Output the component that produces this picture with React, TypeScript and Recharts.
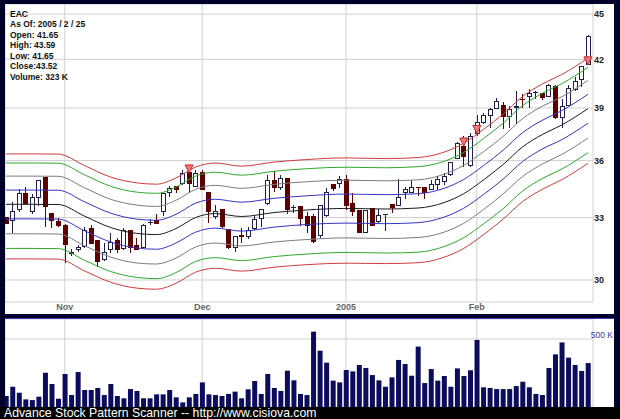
import React from 'react';
import { ComposedChart, BarChart, Bar, Line, Scatter, XAxis, YAxis, CartesianGrid } from 'recharts';

// ---- price data (Oct 19 2004 .. Feb 25 2005), one entry per trading day ----
const openP = [
  33.0, 32.84, 33.43, 34.25, 33.3, 34.04, 35.1, 33.2, 32.81, 32.62,
  31.25, 31.41, 31.57, 32.47, 31.84, 30.96, 31.44, 31.86, 31.49, 32.35,
  31.6, 31.54, 32.72, 32.84, 33.3, 34.3, 34.61, 34.74, 35.32, 34.61,
  35.32, 34.28, 33.03, 33.43, 32.42, 31.54, 32.12, 32.05, 32.47, 32.95,
  33.69, 34.92, 34.52, 35.0, 33.45, 33.54, 33.03, 33.03, 32.09, 33.08,
  34.68, 34.74, 34.96, 33.69, 33.34, 32.25, 33.45, 32.78, 33.1, 33.64,
  33.62, 34.3, 34.28, 34.55, 34.52, 34.44, 34.72, 34.87, 35.23, 36.11,
  36.8, 35.73, 37.51, 38.13, 38.56, 38.96, 39.15, 38.49, 39.01, 39.51,
  39.68, 39.9, 39.88, 39.71, 40.29, 38.42, 39.15, 40.12, 40.7, 41.65,
];
const highP = [
  33.05, 33.81, 34.48, 34.57, 34.22, 34.92, 35.12, 33.22, 32.96, 32.65,
  31.44, 31.65, 32.55, 32.64, 31.86, 31.73, 32.25, 31.97, 32.47, 32.38,
  31.97, 32.65, 32.91, 33.2, 34.28, 34.61, 34.62, 35.5, 35.35, 35.46,
  35.46, 34.3, 33.64, 33.45, 32.44, 32.09, 32.47, 32.55, 33.06, 33.43,
  35.23, 35.41, 35.19, 35.05, 33.64, 33.56, 33.3, 33.2, 33.64, 34.52,
  34.7, 35.17, 35.23, 34.28, 33.36, 33.39, 33.49, 33.43, 33.16, 33.66,
  35.0, 34.55, 34.96, 34.58, 34.55, 34.96, 35.14, 35.32, 35.89, 37.04,
  37.35, 37.55, 38.58, 38.7, 39.01, 39.62, 39.33, 39.09, 40.02, 39.81,
  40.12, 40.02, 39.9, 40.43, 40.37, 39.51, 40.37, 40.9, 41.59, 43.59,
];
const lowP = [
  32.7, 32.21, 33.3, 33.68, 33.18, 33.56, 32.52, 32.47, 32.52, 30.77,
  31.12, 31.33, 31.49, 31.72, 30.61, 30.89, 31.25, 31.25, 31.41, 31.25,
  31.41, 31.49, 32.62, 32.7, 33.08, 34.04, 34.25, 34.69, 34.28, 34.57,
  34.42, 32.71, 32.92, 32.47, 31.44, 31.33, 31.73, 31.92, 32.38, 32.55,
  33.64, 34.33, 34.43, 33.2, 33.25, 32.58, 32.21, 31.76, 31.97, 33.03,
  34.36, 34.52, 33.39, 33.08, 32.21, 32.21, 32.58, 32.72, 32.35, 33.25,
  33.56, 33.95, 34.25, 34.1, 33.93, 34.43, 34.4, 34.7, 35.17, 36.06,
  35.64, 35.62, 37.35, 38.05, 37.84, 38.93, 37.78, 37.84, 38.05, 39.0,
  39.0, 39.51, 39.45, 39.68, 38.36, 37.84, 39.11, 40.02, 40.29, 41.65,
];
const closeP = [
  32.72, 33.3, 34.25, 33.7, 34.04, 34.9, 33.56, 32.84, 32.62, 31.65,
  31.3, 31.54, 32.35, 31.73, 30.85, 31.28, 31.78, 31.44, 32.35, 31.54,
  31.44, 32.62, 32.74, 32.71, 34.25, 34.48, 34.43, 35.28, 34.78, 35.28,
  34.43, 33.3, 33.3, 32.55, 31.52, 32.05, 32.05, 32.35, 32.91, 33.39,
  34.92, 34.52, 35.0, 33.43, 33.5, 32.95, 32.62, 31.81, 33.6, 34.28,
  34.5, 34.96, 33.6, 33.3, 32.25, 33.34, 32.62, 33.08, 33.14, 33.52,
  34.04, 34.45, 34.55, 34.5, 34.28, 34.72, 34.96, 35.14, 35.86, 36.95,
  36.21, 37.35, 38.13, 38.54, 38.91, 39.41, 38.49, 38.89, 39.07, 39.45,
  39.86, 39.93, 39.62, 40.33, 38.42, 39.11, 40.16, 40.63, 41.53, 43.52,
];
// volume in thousands of shares
const volumeK = [
  81, 149, 105, 56, 51, 76, 252, 169, 61, 243,
  88, 257, 125, 125, 140, 88, 169, 81, 64, 132,
  118, 64, 64, 93, 93, 125, 71, 34, 71, 96,
  181, 93, 88, 81, 96, 113, 64, 130, 191, 96,
  243, 140, 118, 267, 196, 96, 88, 554, 414, 326,
  194, 181, 272, 262, 309, 287, 235, 196, 149, 218,
  346, 316, 230, 444, 176, 279, 194, 228, 149, 284,
  228, 270, 493, 145, 140, 132, 132, 132, 154, 186,
  145, 96, 88, 287, 387, 475, 363, 309, 265, 323,
];

// ---- moving average envelope lines, read at sample days ----
const envIdx = [0, 4, 8, 12, 16, 20, 23, 26, 29, 32, 36, 41, 46, 52, 58, 63, 67, 70, 73, 76, 79, 82, 85, 89];
const maMid = [33.67, 33.67, 33.66, 33.07, 32.5, 32.21, 32.15, 32.45, 33.0, 33.2, 33.05, 33.25, 33.38, 33.46, 33.43, 33.48, 33.76, 34.22, 34.94, 35.77, 36.75, 37.45, 38.0, 38.96];
const upper4 = [36.36, 36.36, 36.35, 35.72, 35.1, 34.79, 34.72, 35.05, 35.64, 35.86, 35.69, 35.91, 36.05, 36.14, 36.1, 36.16, 36.46, 36.96, 37.74, 38.63, 39.69, 40.45, 41.04, 42.08];
const upper3 = [35.86, 35.86, 35.85, 35.22, 34.61, 34.3, 34.24, 34.56, 35.15, 35.36, 35.2, 35.41, 35.55, 35.63, 35.6, 35.66, 35.95, 36.44, 37.21, 38.1, 39.14, 39.88, 40.47, 41.49];
const upper2 = [35.15, 35.15, 35.14, 34.53, 33.93, 33.63, 33.56, 33.88, 34.45, 34.66, 34.5, 34.71, 34.85, 34.93, 34.9, 34.95, 35.25, 35.73, 36.48, 37.34, 38.37, 39.1, 39.67, 40.67];
const upper1 = [34.41, 34.41, 34.4, 33.8, 33.22, 32.92, 32.86, 33.16, 33.73, 33.93, 33.78, 33.98, 34.11, 34.2, 34.17, 34.22, 34.5, 34.97, 35.71, 36.56, 37.56, 38.27, 38.84, 39.82];
const lower1 = [32.93, 32.93, 32.92, 32.34, 31.79, 31.5, 31.44, 31.74, 32.27, 32.47, 32.32, 32.52, 32.65, 32.72, 32.69, 32.74, 33.02, 33.47, 34.17, 34.98, 35.94, 36.63, 37.16, 38.1];
const lower2 = [32.19, 32.19, 32.18, 31.61, 31.07, 30.79, 30.74, 31.02, 31.55, 31.74, 31.6, 31.79, 31.91, 31.99, 31.96, 32.01, 32.27, 32.71, 33.4, 34.2, 35.13, 35.8, 36.33, 37.25];
const lower3 = [31.48, 31.48, 31.47, 30.92, 30.39, 30.12, 30.06, 30.34, 30.86, 31.04, 30.9, 31.09, 31.21, 31.29, 31.26, 31.3, 31.57, 32.0, 32.67, 33.44, 34.36, 35.02, 35.53, 36.43];
const lower4 = [30.98, 30.98, 30.97, 30.42, 29.9, 29.63, 29.58, 29.85, 30.36, 30.54, 30.41, 30.59, 30.71, 30.78, 30.76, 30.8, 31.06, 31.48, 32.14, 32.91, 33.81, 34.45, 34.96, 35.84];

// ---- signals, ticks, labels ----
const signalIdx = [28, 70, 72, 89];
const monthTicks = [9, 30, 52, 72];
const monthLabels = ['Nov', 'Dec', '2005', 'Feb'];
const priceTicks = [30, 33, 36, 39, 42, 45];
const volumeTicks = [500];
const infoLines = ['EAC', 'As Of: 2005 / 2 / 25', 'Open: 41.65', 'High: 43.59', 'Low: 41.65', 'Close:43.52', 'Volume: 323 K'];
const footerText = 'Advance Stock Pattern Scanner -- http://www.cisiova.com';

// ---- tables built for the library ----
const candleRows = openP.map((o, i) => ({
  i,
  o,
  h: highP[i],
  l: lowP[i],
  c: closeP[i],
  range: [lowP[i], highP[i]],
}));
const volumeRows = volumeK.map((v, i) => ({ i, v }));
const envRows = envIdx.map((i, k) => ({
  i,
  mid: maMid[k],
  u1: upper1[k],
  u2: upper2[k],
  u3: upper3[k],
  u4: upper4[k],
  l1: lower1[k],
  l2: lower2[k],
  l3: lower3[k],
  l4: lower4[k],
}));
const signalRows = signalIdx.map((i) => ({ i, v: openP[i] }));

const X_DOMAIN: [number, number] = [-0.15, 89.77];
const UP = '#1e1e50';
const DOWN = '#5e0000';
const FONT = '"Liberation Sans", Arial, sans-serif';

function Candle(props: any) {
  const { x, y, width, height, payload } = props;
  if (!payload || x == null || y == null) return null;
  const { o, h, l, c } = payload;
  const top = Math.min(y, y + height);
  const bot = Math.max(y, y + height);
  const lnH = Math.log(h);
  const lnL = Math.log(l);
  const span = lnH - lnL;
  const yOf = (v: number) => (span > 0 ? top + ((bot - top) * (lnH - Math.log(v))) / span : top);
  const cx = x + width / 2;
  const up = c >= o;
  const color = up ? UP : DOWN;
  const bTop = yOf(Math.max(o, c));
  const bBot = yOf(Math.min(o, c));
  const bh = bBot - bTop;
  return (
    <g shapeRendering="crispEdges">
      <line x1={cx} x2={cx} y1={top} y2={bot} stroke={color} strokeWidth={1} />
      {bh < 1 ? (
        <line x1={cx - 2.5} x2={cx + 2.5} y1={bTop} y2={bTop} stroke={color} strokeWidth={1} />
      ) : (
        <rect x={cx - 2} y={bTop} width={4} height={bh} fill={up ? '#ffffff' : DOWN} stroke={color} strokeWidth={1} />
      )}
    </g>
  );
}

function Triangle(props: any) {
  const { cx, cy } = props;
  if (cx == null || cy == null) return null;
  return (
    <path
      d={`M${cx - 4},${cy - 8}L${cx + 4},${cy - 8}L${cx},${cy}Z`}
      fill="#f07878"
      stroke="#c82828"
      strokeWidth={1}
    />
  );
}

function VolTick(props: any) {
  const { x, y, payload } = props;
  return (
    <text x={x + 20} y={y - 1} textAnchor="end" fontSize={8.5} fontFamily={FONT} fill="#3a3aa8">
      {`${payload.value} K`}
    </text>
  );
}

const envLines = [
  { key: 'u4', color: '#cc3c3c' },
  { key: 'u3', color: '#2ea82e' },
  { key: 'u2', color: '#7c7c7c' },
  { key: 'u1', color: '#3434c0' },
  { key: 'mid', color: '#1a1a1a' },
  { key: 'l1', color: '#3434c0' },
  { key: 'l2', color: '#7c7c7c' },
  { key: 'l3', color: '#2ea82e' },
  { key: 'l4', color: '#cc3c3c' },
];

export default function App() {
  return (
    <div
      style={{
        position: 'absolute',
        left: 0,
        top: 0,
        width: 620,
        height: 419,
        background: '#00002a',
        overflow: 'hidden',
        fontFamily: FONT,
      }}
    >
      {/* price panel */}
      <div style={{ position: 'absolute', left: 5, top: 4, width: 609, height: 310, background: '#ffffff' }}>
        <ComposedChart width={609} height={310} data={candleRows} margin={{ top: 0, right: 0, bottom: 0, left: 0 }}>
          <CartesianGrid stroke="#d0d0d0" />
          <XAxis
            dataKey="i"
            type="number"
            domain={X_DOMAIN}
            allowDataOverflow
            ticks={monthTicks}
            interval={0}
            tickFormatter={(v: number) => monthLabels[monthTicks.indexOf(v)] ?? ''}
            height={12}
            tickLine={false}
            axisLine={false}
            tickSize={0}
            tickMargin={2}
            tick={{ fontSize: 9, fontWeight: 'bold', fill: '#666666', fontFamily: FONT }}
          />
          <YAxis
            orientation="right"
            scale="log"
            domain={[29.01, 45.7]}
            allowDataOverflow
            ticks={priceTicks}
            interval={0}
            width={21}
            tickLine={false}
            axisLine={false}
            tickSize={0}
            tickMargin={1}
            tick={{ fontSize: 9, fontWeight: 'bold', fill: '#222222', fontFamily: FONT, textAnchor: 'start' }}
          />
          {envLines.map((e) => (
            <Line
              key={e.key}
              data={envRows}
              dataKey={e.key}
              type="monotone"
              stroke={e.color}
              strokeWidth={1}
              dot={false}
              activeDot={false}
              isAnimationActive={false}
            />
          ))}
          <Bar dataKey="range" barSize={5} shape={(p: any) => <Candle {...p} />} isAnimationActive={false} />
          <Scatter data={signalRows} dataKey="v" shape={(p: any) => <Triangle {...p} />} isAnimationActive={false} />
        </ComposedChart>
        <div style={{ position: 'absolute', left: 5, top: 4.8, fontSize: 8.5, fontWeight: 'bold', color: '#111', lineHeight: '10.45px' }}>
          {infoLines.map((t) => (
            <div key={t} style={{ whiteSpace: 'pre' }}>{t}</div>
          ))}
        </div>
      </div>

      {/* separator line */}
      <div style={{ position: 'absolute', left: 5, top: 318, width: 609, height: 1, background: '#3c3cb0' }} />

      {/* volume panel */}
      <div style={{ position: 'absolute', left: 5, top: 319, width: 609, height: 88, background: '#ffffff' }}>
        <BarChart width={609} height={88} data={volumeRows} margin={{ top: 0, right: 0, bottom: 0, left: 0 }}>
          <CartesianGrid stroke="#d0d0d0" />
          <XAxis dataKey="i" type="number" domain={X_DOMAIN} allowDataOverflow ticks={monthTicks} interval={0} hide />
          <YAxis
            orientation="right"
            domain={[0, 647]}
            allowDataOverflow
            ticks={volumeTicks}
            interval={0}
            width={21}
            tickLine={false}
            axisLine={false}
            tickSize={0}
            tickMargin={0}
            tick={(p: any) => <VolTick {...p} />}
          />
          <Bar dataKey="v" barSize={5} fill="#0c0c5c" isAnimationActive={false} />
        </BarChart>
      </div>

      {/* footer */}
      <div
        style={{
          position: 'absolute',
          left: 0,
          top: 407,
          width: 620,
          height: 12,
          background: '#000000',
        }}
      />
      <div
        style={{
          position: 'absolute',
          left: 4,
          top: 407,
          fontSize: 12.25,
          lineHeight: '12px',
          color: '#ffffff',
          whiteSpace: 'pre',
        }}
      >
        {footerText}
      </div>
    </div>
  );
}
